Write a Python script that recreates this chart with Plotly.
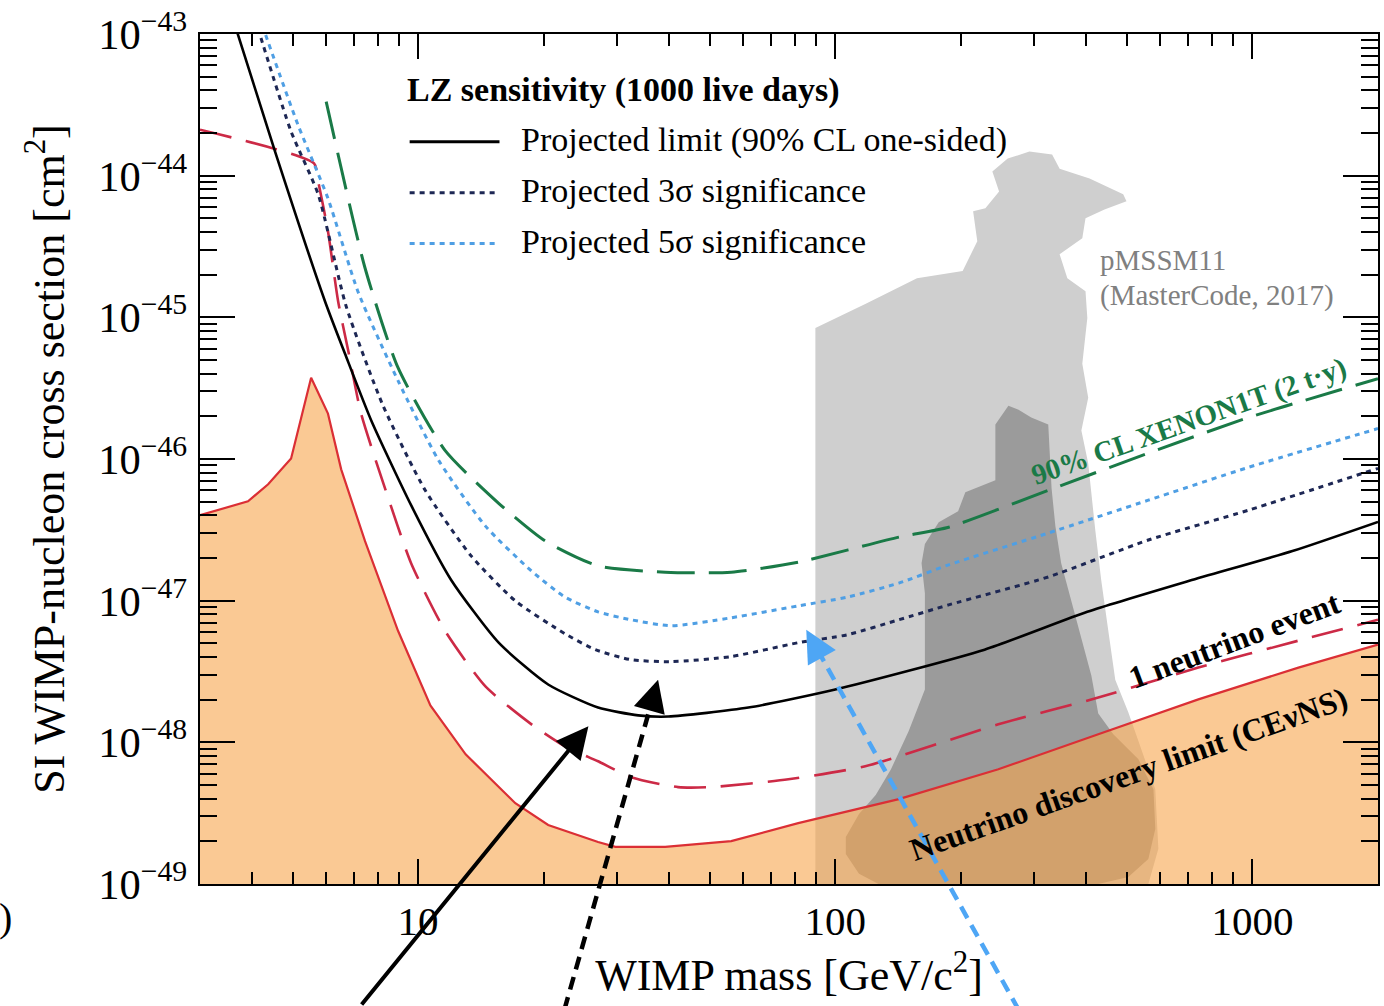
import math
import plotly.graph_objects as go

# ---------------- data ----------------
# LZ projected limit (90% CL one-sided)
limit_mass = [3.64, 4.54, 5.98, 6.68, 7.72, 9.62, 12.0, 15.6, 20.5, 27.0, 33.7, 39.8,
              61.9, 100, 228, 402, 706, 1247, 2000]
limit_xsec = [1.15e-43, 1.48e-44, 1.30e-45, 5.53e-46, 1.87e-46, 4.72e-47, 1.40e-47,
              5.05e-48, 2.56e-48, 1.76e-48, 1.55e-48, 1.52e-48, 1.76e-48, 2.36e-48,
              4.51e-48, 8.34e-48, 1.38e-47, 2.24e-47, 3.6e-47]

# Projected 3 sigma significance
sigma3_mass = [4.13, 4.96, 5.76, 6.72, 8.24, 10.4, 13.4, 17.1, 22.5, 26.6, 32.4, 40.4,
               56.3, 81.5, 107, 142, 187, 324, 563, 978, 2000]
sigma3_xsec = [1.1e-43, 2.05e-44, 7.38e-45, 1.20e-45, 2.38e-46, 6.01e-47, 2.07e-47,
               9.97e-48, 5.84e-48, 4.51e-48, 3.83e-48, 3.71e-48, 4.03e-48, 5.05e-48,
               5.75e-48, 7.33e-48, 9.34e-48, 1.47e-47, 2.68e-47, 4.35e-47, 8.59e-47]

# Projected 5 sigma significance
sigma5_mass = [4.23, 5.15, 6.08, 7.18, 8.95, 11.2, 14.5, 18.7, 22.5, 27.0, 32.4, 40.4,
               56.3, 81.5, 107, 142, 187, 324, 563, 978, 2000]
sigma5_xsec = [1.15e-43, 2.29e-44, 6.91e-45, 1.51e-45, 3.57e-46, 9.78e-47, 3.36e-47,
               1.62e-47, 1.06e-47, 8.34e-48, 7.33e-48, 6.65e-48, 7.57e-48, 9.19e-48,
               1.06e-47, 1.33e-47, 1.79e-47, 3.00e-47, 5.12e-47, 8.73e-47, 1.64e-46]

# 90% CL XENON1T (2 t.y)
xenon_mass = [6.02, 7.46, 8.95, 11.6, 15.6, 20.2, 27.0, 39.1, 56.3, 81.5, 142, 187,
              324, 563, 978, 2000]
xenon_xsec = [3.33e-44, 2.23e-45, 4.41e-46, 1.15e-46, 4.87e-47, 2.63e-47, 1.76e-47,
              1.59e-47, 1.59e-47, 1.87e-47, 2.81e-47, 3.30e-47, 6.01e-47, 1.10e-46,
              1.96e-46, 3.69e-46]

# 1 neutrino event
nu1_mass = [3.0, 5.63, 5.76, 6.08, 6.43, 6.80, 7.30, 8.33, 9.62, 11.6, 14.5, 18.7,
            22.5, 27.0, 32.4, 42.0, 50.4, 77.2, 118, 246, 427, 742, 1289, 2000]
nu1_xsec = [2.11e-44, 1.22e-44, 9.10e-45, 4.05e-45, 1.30e-45, 5.80e-46, 2.09e-46,
            6.21e-47, 1.84e-47, 6.13e-48, 2.48e-48, 1.34e-48, 9.37e-49, 7.35e-49,
            5.67e-49, 4.83e-49, 4.83e-49, 5.49e-49, 6.78e-49, 1.34e-48, 2.07e-48,
            3.37e-48, 5.22e-48, 7.33e-48]

# Neutrino discovery limit (CEvNS)
floor_mass = [3.0, 3.91, 4.37, 4.96, 5.54, 6.08, 6.54, 7.46, 8.95, 10.7, 13.0, 17.1,
              20.5, 27.0, 29.7, 39.1, 56.3, 81.5, 142, 246, 427, 742, 1289, 2000]
floor_xsec = [4.01e-47, 5.03e-47, 6.63e-47, 1.01e-46, 3.75e-46, 2.09e-46, 8.45e-47,
              2.63e-47, 6.13e-48, 1.82e-48, 8.23e-49, 3.72e-49, 2.61e-49, 1.98e-49,
              1.83e-49, 1.83e-49, 2.01e-49, 2.69e-49, 3.97e-49, 6.46e-49, 1.14e-48,
              2.01e-48, 3.37e-48, 4.89e-48]

# pMSSM11 (MasterCode, 2017) regions: outer (light) and inner (dark)
pmssm_outer_mass = [89.6, 89.6, 118, 157, 202, 219, 214, 229, 247, 238, 259, 292, 331,
                    345, 407, 490, 499, 442, 398, 391, 345, 360, 398, 402, 391, 404,
                    389, 404, 420, 434, 451, 469, 504, 542, 585, 595, 563]
pmssm_outer_xsec = [1e-49, 8.42e-46, 1.24e-45, 1.89e-45, 2.12e-45, 3.45e-45, 5.60e-45,
                    5.88e-45, 7.74e-45, 1.07e-44, 1.32e-44, 1.48e-44, 1.41e-44,
                    1.12e-44, 9.56e-45, 7.38e-45, 6.59e-45, 5.78e-45, 5.00e-45,
                    3.62e-45, 2.79e-45, 1.89e-45, 1.53e-45, 9.90e-46, 4.70e-46,
                    2.71e-46, 1.59e-46, 9.31e-47, 3.15e-47, 1.40e-47, 6.23e-48,
                    2.77e-48, 1.63e-48, 8.78e-49, 4.67e-49, 1.77e-49, 1e-49]
pmssm_inner_mass = [260, 275, 295, 324, 330, 337, 348, 368, 389, 411, 427, 464, 533,
                    579, 585, 563, 504, 427, 127, 114, 106, 106, 114, 120, 125, 136,
                    150, 164, 164, 164, 161, 164, 177, 197, 205, 242, 242]
pmssm_inner_xsec = [2.38e-46, 2.23e-46, 1.96e-46, 1.75e-46, 6.21e-47, 3.36e-47,
                    1.84e-47, 9.97e-48, 5.47e-48, 2.96e-48, 1.60e-48, 1.14e-48,
                    7.59e-49, 4.67e-49, 2.44e-49, 1.50e-49, 1.12e-49, 1e-49, 1e-49,
                    1.18e-49, 1.63e-49, 2.15e-49, 3.12e-49, 3.72e-49, 4.24e-49,
                    6.46e-49, 1.20e-48, 2.36e-48, 5.47e-48, 1.13e-47, 1.84e-47,
                    2.51e-47, 3.58e-47, 4.28e-47, 5.82e-47, 7.07e-47, 1.75e-46]

# axis ranges (decades)
x_range = [3, 2000]
y_decades = [-49, -43]

# arrow targets (mass, cross section) pointed at from below the chart
arrow_limit = (25.6, 1.30e-48)
arrow_3sigma = (37.6, 2.77e-48)
arrow_5sigma = (85.2, 6.23e-48)

# ---------------- style ----------------
FONT = "Liberation Serif"
C_LIMIT = "#000000"
C_3S = "#1d2754"
C_5S = "#4f9fe4"
C_XE = "#1a7a47"
C_NU1 = "#cc2a46"
C_FLOOR = "#db2f35"
C_ORANGE = "rgba(247,165,77,0.6)"
C_LIGHT = "#cfcfcf"
C_DARK = "#9b9b9b"

# plot-area geometry (pixels) used to place decorations in paper space
L, T, W, H = 200, 32, 1180, 852


def px2paper(px, py):
    return (px - L) / W, (T + H - py) / H


def data2paper(m, s):
    lx0, lx1 = math.log10(x_range[0]), math.log10(x_range[1])
    ly0, ly1 = y_decades
    return (math.log10(m) - lx0) / (lx1 - lx0), (math.log10(s) - ly0) / (ly1 - ly0)


fig = go.Figure()

# pMSSM regions
fig.add_trace(go.Scatter(x=pmssm_outer_mass, y=pmssm_outer_xsec, mode="lines",
                         fill="toself", fillcolor=C_LIGHT, line=dict(width=0),
                         hoverinfo="skip"))
fig.add_trace(go.Scatter(x=pmssm_inner_mass, y=pmssm_inner_xsec, mode="lines",
                         fill="toself", fillcolor=C_DARK, line=dict(width=0),
                         hoverinfo="skip"))

# neutrino floor fill (baseline at the bottom of the axis)
fig.add_trace(go.Scatter(x=x_range, y=[10 ** y_decades[0]] * 2, mode="lines",
                         line=dict(width=0, color="rgba(0,0,0,0)"), hoverinfo="skip"))
fig.add_trace(go.Scatter(x=floor_mass, y=floor_xsec, mode="lines", fill="tonexty",
                         fillcolor=C_ORANGE, line=dict(color=C_FLOOR, width=2.2)))

SPL = dict(shape="spline", smoothing=0.6)
fig.add_trace(go.Scatter(x=nu1_mass, y=nu1_xsec, mode="lines",
                         line=dict(color=C_NU1, width=2.6, dash="32px,15px", **SPL)))
fig.add_trace(go.Scatter(x=xenon_mass, y=xenon_xsec, mode="lines",
                         line=dict(color=C_XE, width=3, dash="38px,14px", **SPL)))
fig.add_trace(go.Scatter(x=sigma5_mass, y=sigma5_xsec, mode="lines",
                         line=dict(color=C_5S, width=3, dash="5px,5px", **SPL)))
fig.add_trace(go.Scatter(x=sigma3_mass, y=sigma3_xsec, mode="lines",
                         line=dict(color=C_3S, width=3, dash="5px,5px", **SPL)))
fig.add_trace(go.Scatter(x=limit_mass, y=limit_xsec, mode="lines",
                         line=dict(color=C_LIMIT, width=2.6, **SPL)))

shapes = []
annotations = []

# legend (manual)
leg_items = [("Projected limit (90% CL one-sided)", C_LIMIT, "solid", 140),
             ("Projected 3σ significance", C_3S, "5px,5px", 191),
             ("Projected 5σ significance", C_5S, "5px,5px", 242)]
hx, hy = px2paper(405, 88)
annotations.append(dict(xref="paper", yref="paper", x=hx, y=hy, xanchor="left",
                        yanchor="middle", showarrow=False,
                        text="<b>LZ sensitivity (1000 live days)</b>",
                        font=dict(family=FONT, size=34, color="black")))
for label, col, dash, ypx in leg_items:
    x0, y0 = px2paper(410, ypx)
    x1, _ = px2paper(500, ypx)
    shapes.append(dict(type="line", xref="paper", yref="paper", x0=x0, x1=x1,
                       y0=y0, y1=y0, line=dict(color=col, width=3, dash=dash)))
    tx, ty = px2paper(520, ypx - 2)
    annotations.append(dict(xref="paper", yref="paper", x=tx, y=ty, xanchor="left",
                            yanchor="middle", showarrow=False, text=label,
                            font=dict(family=FONT, size=34, color="black")))

# region / curve labels
px_, py_ = px2paper(1100, 259)
annotations.append(dict(xref="paper", yref="paper", x=px_, y=py_, xanchor="left",
                        yanchor="middle", showarrow=False, text="pMSSM11",
                        font=dict(family=FONT, size=29, color="#808080")))
px_, py_ = px2paper(1100, 294)
annotations.append(dict(xref="paper", yref="paper", x=px_, y=py_, xanchor="left",
                        yanchor="middle", showarrow=False, text="(MasterCode, 2017)",
                        font=dict(family=FONT, size=29, color="#808080")))
for text, col, cx, cy, ang, size in [
        ("<b>90% CL XENON1T (2 t·y)</b>", C_XE, 1190, 420, -19.4, 29),
        ("<b>1 neutrino event</b>", "black", 1236, 639, -20.5, 32),
        ("<b>Neutrino discovery limit (CEνNS)</b>", "black", 1130, 774, -19.5, 32)]:
    ax_, ay_ = px2paper(cx, cy)
    annotations.append(dict(xref="paper", yref="paper", x=ax_, y=ay_, xanchor="center",
                            yanchor="middle", showarrow=False, text=text, textangle=ang,
                            font=dict(family=FONT, size=size, color=col)))

# cut-off panel label at the left edge
lx_, ly_ = px2paper(-3, 918)
annotations.append(dict(xref="paper", yref="paper", x=lx_, y=ly_, xanchor="left",
                        yanchor="middle", showarrow=False, text=")",
                        font=dict(family=FONT, size=40, color="black")))

# arrows from below the chart
annotations.append(dict(x=math.log10(arrow_limit[0]), y=math.log10(arrow_limit[1]),
                        xref="x", yref="y", ax=-228, ay=284, axref="pixel", ayref="pixel",
                        showarrow=True, arrowhead=2, arrowsize=1.6, arrowwidth=4,
                        arrowcolor="black", text=""))
for (m, s), tail_px, col in [(arrow_3sigma, (565, 1010), "black"),
                             (arrow_5sigma, (1020, 1010), "#4ea6f5")]:
    hxp, hyp = data2paper(m, s)
    head_px = (L + hxp * W, T + H - hyp * H)
    dx, dy = head_px[0] - tail_px[0], head_px[1] - tail_px[1]
    n = math.hypot(dx, dy)
    ux, uy = dx / n, dy / n
    near = (head_px[0] - 28 * ux, head_px[1] - 28 * uy)
    x0, y0 = px2paper(*tail_px)
    x1, y1 = px2paper(*near)
    shapes.append(dict(type="line", xref="paper", yref="paper", x0=x0, y0=y0,
                       x1=x1, y1=y1, line=dict(color=col, width=4.5, dash="13px,8px")))
    annotations.append(dict(x=math.log10(m), y=math.log10(s), xref="x", yref="y",
                            ax=-28 * ux, ay=-28 * uy, axref="pixel", ayref="pixel",
                            showarrow=True, arrowhead=2, arrowsize=1.6, arrowwidth=4,
                            arrowcolor=col, text=""))

fig.update_layout(
    width=1384, height=1006,
    margin=dict(l=L, r=1384 - L - W, t=T, b=1006 - T - H),
    paper_bgcolor="white", plot_bgcolor="white",
    font=dict(family=FONT, color="black"),
    showlegend=False, shapes=shapes, annotations=annotations,
)
fig.update_xaxes(
    type="log", range=[math.log10(x_range[0]), math.log10(x_range[1])],
    dtick=1, exponentformat="none", ticks="inside", ticklen=25, tickwidth=1.5,
    tickcolor="black", showline=True, linecolor="black", linewidth=2,
    mirror="ticks", showgrid=False, zeroline=False,
    tickfont=dict(family=FONT, size=41, color="black"), ticklabelstandoff=0,
    title=dict(text="WIMP mass [GeV/c<sup>2</sup>]",
               font=dict(family=FONT, size=44, color="black"), standoff=16),
    minor=dict(ticks="inside", ticklen=12, tickwidth=1.5, tickcolor="black",
               dtick="D1", showgrid=False),
)
fig.update_yaxes(
    type="log", range=y_decades,
    dtick=1, exponentformat="power", showexponent="all", ticks="inside",
    ticklen=35, tickwidth=1.5, tickcolor="black", showline=True,
    linecolor="black", linewidth=2, mirror="ticks", showgrid=False, zeroline=False,
    tickfont=dict(family=FONT, size=34, color="black"), ticklabelstandoff=4,
    title=dict(text="SI WIMP-nucleon cross section [cm<sup>2</sup>]",
               font=dict(family=FONT, size=44, color="black"), standoff=20),
    minor=dict(ticks="inside", ticklen=17, tickwidth=1.5, tickcolor="black",
               dtick="D1", showgrid=False),
)

fig.write_html("out.html")
